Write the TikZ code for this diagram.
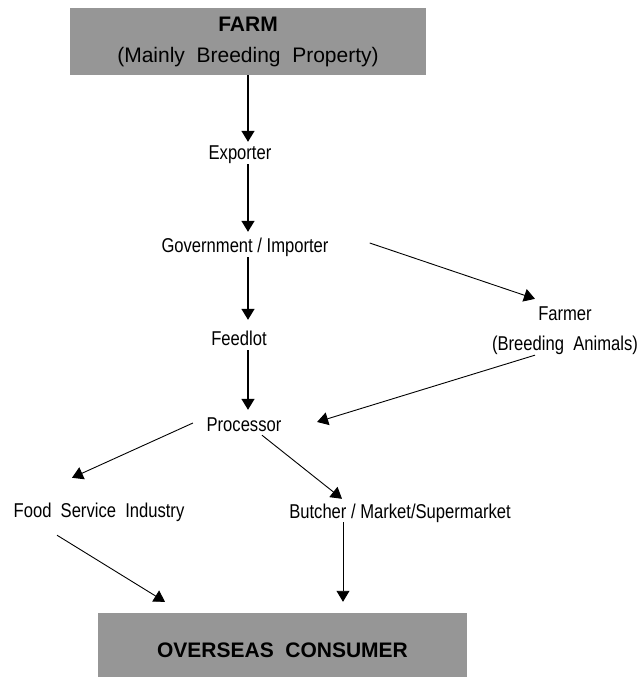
\documentclass[tikz,border=0pt]{standalone}
\usepackage{fontspec}
\setmainfont{Liberation Sans}
\newfontfamily\narrowsans[FakeStretch=0.83]{Liberation Sans}
\usetikzlibrary{arrows.meta}
\definecolor{boxgray}{RGB}{150,150,150}

\begin{document}
\begin{tikzpicture}[
stage/.style={fill=boxgray, inner sep=0pt, align=center, font=\fontsize{21}{31}\selectfont},
actor/.style={font=\narrowsans\fontsize{20}{30}\selectfont, inner sep=0pt, text height=15pt, text depth=4pt},
flow/.style={-{Triangle[length=11pt,width=13pt]}, line width=0.9pt},
trunk/.style={flow, line width=1.4pt}
]

%%%%%%%%%%%%%%%%%%%%%%%%%%%%%%%%%%%%%%%%%%%%%%%%%%%%%%%%%%%%
% OUTER FRAME
%%%%%%%%%%%%%%%%%%%%%%%%%%%%%%%%%%%%%%%%%%%%%%%%%%%%%%%%%%%%

\node[
minimum width=640pt,
minimum height=677pt,
inner sep=0pt,
outer sep=0pt
](frame) at (0,0) {};

%%%%%%%%%%%%%%%%%%%%%%%%%%%%%%%%%%%%%%%%%%%%%%%%%%%%%%%%%%%%
% Farm
%%%%%%%%%%%%%%%%%%%%%%%%%%%%%%%%%%%%%%%%%%%%%%%%%%%%%%%%%%%%

\node[
stage,
minimum width=356pt,
minimum height=67pt
](farm)
at ([xshift=248pt,yshift=-41.5pt]frame.north west)
{\textbf{FARM}\\(Mainly\ \ Breeding\ \ Property)};

%%%%%%%%%%%%%%%%%%%%%%%%%%%%%%%%%%%%%%%%%%%%%%%%%%%%%%%%%%%%
% Chain
%%%%%%%%%%%%%%%%%%%%%%%%%%%%%%%%%%%%%%%%%%%%%%%%%%%%%%%%%%%%

\node[actor](exporter)
at ([xshift=240pt,yshift=-154.5pt]frame.north west)
{Exporter};

\node[actor](gov)
at ([xshift=245pt,yshift=-247.5pt]frame.north west)
{Government / Importer};

\node[actor](feedlot)
at ([xshift=239pt,yshift=-340.5pt]frame.north west)
{Feedlot};

\node[
font=\narrowsans\fontsize{20}{30}\selectfont,
inner sep=0pt,
align=center
](farmer)
at ([xshift=565pt,yshift=-331pt]frame.north west)
{Farmer\\(Breeding\ \ Animals)};

\node[actor](processor)
at ([xshift=244pt,yshift=-425.5pt]frame.north west)
{Processor};

\node[actor](food)
at ([xshift=99pt,yshift=-511.5pt]frame.north west)
{Food\ \ Service\ \ Industry};

\node[actor](butcher)
at ([xshift=400pt,yshift=-512.5pt]frame.north west)
{Butcher / Market/Supermarket};

%%%%%%%%%%%%%%%%%%%%%%%%%%%%%%%%%%%%%%%%%%%%%%%%%%%%%%%%%%%%
% Overseas Consumer
%%%%%%%%%%%%%%%%%%%%%%%%%%%%%%%%%%%%%%%%%%%%%%%%%%%%%%%%%%%%

\node[
stage,
font=\bfseries\fontsize{21}{31}\selectfont,
text height=25pt,
minimum width=369pt,
minimum height=64pt
](consumer)
at ([xshift=282.5pt,yshift=-645pt]frame.north west)
{OVERSEAS\ \ CONSUMER};

%%%%%%%%%%%%%%%%%%%%%%%%%%%%%%%%%%%%%%%%%%%%%%%%%%%%%%%%%%%%
% Arrows
%%%%%%%%%%%%%%%%%%%%%%%%%%%%%%%%%%%%%%%%%%%%%%%%%%%%%%%%%%%%

\draw[trunk, shorten >=3pt] (farm.south) -- (exporter.north -| farm.south);
\draw[trunk, shorten >=6pt] (exporter.south -| farm.south) -- (gov.north -| farm.south);
\draw[trunk, shorten >=11pt] (gov.south -| farm.south) -- (feedlot.north -| farm.south);
\draw[trunk, shorten >=6pt] (feedlot.south -| farm.south) -- (processor.north -| farm.south);

\draw[flow] ([xshift=41pt,yshift=4.5pt]gov.east) -- ([xshift=-30pt,yshift=8pt]farmer.north);
\draw[flow] ([xshift=-30pt]farmer.south) -- ([xshift=35.5pt,yshift=3.5pt]processor.east);

\draw[flow] ([xshift=-13.5pt,yshift=2.5pt]processor.west) -- ([xshift=-27pt,yshift=24pt]food.north);
\draw[flow] ([xshift=18pt]processor.south) -- ([xshift=-58pt,yshift=4pt]butcher.north);

\draw[flow] ([xshift=-42pt,yshift=-14pt]food.south) -- ([xshift=-117.5pt,yshift=11pt]consumer.north);
\draw[flow] ([xshift=-57pt]butcher.south) -- ([xshift=60.5pt,yshift=11pt]consumer.north);

\end{tikzpicture}
\end{document}
